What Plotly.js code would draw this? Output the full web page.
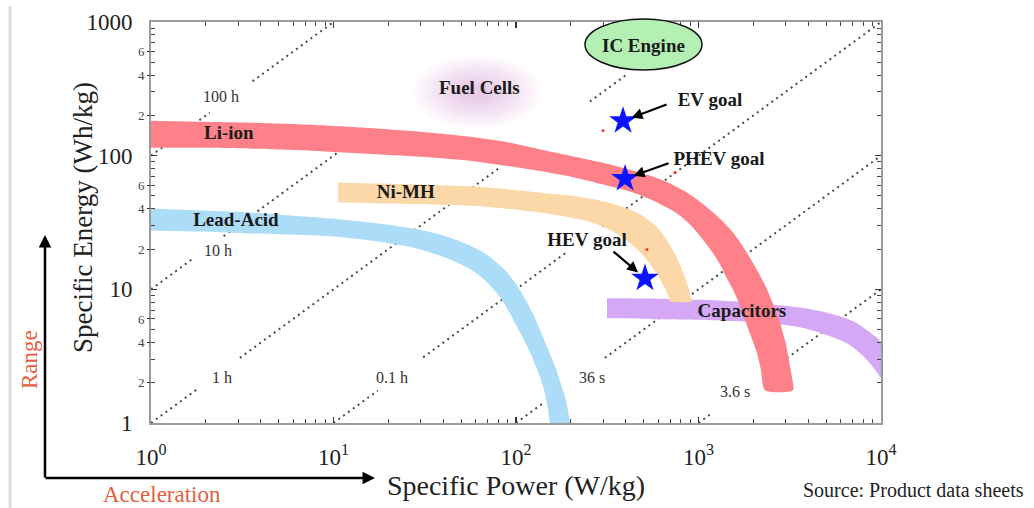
<!DOCTYPE html>
<html><head><meta charset="utf-8">
<script src="https://cdn.plot.ly/plotly-3.0.1.min.js"></script>
<style>html,body{margin:0;padding:0;background:#fff;}#chart{width:1034px;height:508px;}</style>
</head><body><div id="chart"></div>
<script>
// ---------- data ----------
// Technology bands: outer edge and inner edge (Specific Power W/kg, Specific Energy Wh/kg)
const liionOuterP = [1, 1.856, 3.714, 7.433, 14.88, 29.79, 55.97, 87.0, 130.4, 197.7, 299.7, 421.3, 563.2, 698.2, 865, 1019, 1186, 1362, 1545, 1710, 1867, 2040, 2200, 2373, 2528, 2658, 2797, 2904, 3017, 3093, 3172, 3253, 3294];
const liionOuterE = [182.4, 179.4, 176.3, 170.3, 161.8, 151.1, 138.7, 127.2, 112.8, 100, 88.7, 78.6, 69.7, 61.8, 52.9, 45.4, 38.2, 32.2, 26.6, 22.0, 18.2, 14.8, 12.3, 10.0, 8.13, 6.85, 5.67, 4.70, 3.89, 3.22, 2.66, 2.20, 1.76];
const liionInnerP = [1, 1.856, 3.714, 7.433, 14.88, 29.79, 55.97, 87.0, 130.4, 197.7, 299.7, 421.3, 563.2, 655.2, 762.5, 876, 994, 1099, 1201, 1312, 1415, 1526, 1667, 1798, 1940, 2092, 2200, 2314];
const liionInnerE = [114.7, 114.7, 112.8, 109, 103.5, 98.3, 91.8, 84.2, 77.3, 69.7, 60.8, 53.9, 46.2, 41.6, 36.9, 31.6, 26.2, 22.0, 18.6, 15.4, 12.5, 10.3, 7.86, 5.87, 4.46, 3.33, 2.49, 1.76];

const nimhOuterP = [10.59, 11.3, 17.98, 33.8, 59.6, 92.7, 135.4, 197.7, 271, 348.7, 421.3, 490.2, 556, 615.2, 672, 725, 782, 833, 876, 909.6, 921];
const nimhOuterE = [62.9, 62.85, 61.8, 60.3, 58.7, 55.8, 52.9, 50.3, 46.9, 43.1, 39.5, 35.7, 31.6, 27.6, 23.2, 19.5, 15.9, 12.9, 10.5, 8.71, 8.13];
const nimhInnerP = [10.59, 11.3, 17.98, 33.8, 59.6, 92.7, 135.4, 185.5, 238.8, 289, 340, 390.7, 443.2, 497, 549.3, 600, 647.1, 689.3, 698.2];
const nimhInnerE = [44.6, 44.55, 43.8, 43.1, 42.0, 39.9, 37.6, 35.1, 32.7, 30.0, 27.1, 24.0, 20.9, 17.9, 15.1, 12.7, 10.5, 8.71, 8.13];

const leadOuterP = [1, 1.856, 3.487, 5.776, 9.568, 15.85, 27.27, 38.33, 51.24, 63.49, 75.78, 89.28, 101.3, 113.4, 125.5, 137.1, 149.7, 163.6, 176.4, 187.9, 197.7, 202];
const leadOuterE = [40.2, 38.9, 37.6, 35.7, 33.9, 31.6, 28.5, 25.7, 22.4, 19.5, 16.5, 13.4, 10.7, 8.28, 6.29, 4.78, 3.57, 2.66, 1.95, 1.48, 1.0, 0.85];
const leadInnerP = [1, 1.856, 3.487, 5.776, 9.568, 15.85, 27.27, 36.91, 47.50, 57.42, 67.62, 78.69, 88.13, 97.5, 107.9, 119.3, 130.4, 140.6, 147.9, 153.6, 155.5];
const leadInnerE = [27.6, 27.1, 26.2, 25.7, 24.9, 23.2, 20.6, 18.2, 15.9, 13.9, 11.7, 9.34, 7.47, 5.77, 4.46, 3.39, 2.53, 1.89, 1.39, 1.0, 0.85];

const capOuterP = [315.3, 371.5, 615.2, 1201, 1915, 2797, 3833, 4934, 6192, 7387, 8382, 9271, 10000, 11200];
const capOuterE = [8.57, 8.57, 8.50, 8.28, 8.0, 7.6, 7.22, 6.74, 6.18, 5.58, 4.94, 4.46, 4.09, 3.63];
const capInnerP = [315.3, 371.5, 615.2, 1201, 1915, 2797, 3598, 4348, 5254, 6192, 7025, 7867, 8703, 9389, 10000, 10925];
const capInnerE = [6.08, 6.08, 5.97, 5.87, 5.72, 5.48, 5.20, 4.86, 4.46, 4.09, 3.69, 3.22, 2.80, 2.44, 2.17, 1.83];

const bandNames = ['Li-ion', 'Ni-MH', 'Lead-Acid', 'Capacitors'];
const bandLabelP = [2.67, 24.9, 2.92, 1730];
const bandLabelE = [143.5, 52, 32.2, 6.74];

// Goals
const goalNames = ['EV goal', 'PHEV goal', 'HEV goal'];
const goalP = [386, 396, 509];
const goalE = [182, 67.3, 12.1];
const goalLabelP = [1156, 1295, 245];
const goalLabelE = [257, 91.8, 22.8];
const goalArrowAx = [45, 45, -33];
const goalArrowAy = [-17, -16, -28];

// Small red points
const dotP = [300, 743, 522];
const dotE = [154, 74.7, 19.9];

// Other regions
const regionNames = ['Fuel Cells', 'IC Engine'];
const regionP = [62.7, 497];
const regionE = [322, 662];

// Constant discharge-time lines (visible segments)
const tlNames = ['100 h', '10 h', '1 h', '0.1 h', '36 s', '3.6 s'];
const tlP = [[1, 2.1, null, 3.6, 10], [1, 1.7, null, 2.5, 11], [1, 1.8, null, 3.07, 80, null, 254, 400],
             [10, 17.5, null, 31, 190, null, 296, 10000], [100, 143, null, 307, 10000], [1000, 1200, null, 2250, 10000]];
const tlE = [[100, 210, null, 360, 1000], [10, 17, null, 25, 110], [1, 1.8, null, 3.07, 80, null, 254, 400],
             [1, 1.75, null, 3.1, 19, null, 29.6, 1000], [1, 1.43, null, 3.07, 100], [1, 1.2, null, 2.25, 10]];
const tlLabelP = [2.42, 2.33, 2.45, 20.9, 261, 1585];
const tlLabelE = [271, 18.9, 2.13, 2.13, 2.13, 1.67];

// Ticks
const xTickVals = [1, 10, 100, 1000, 10000];
const xTickText = ['10<sup>0</sup>', '10<sup>1</sup>', '10<sup>2</sup>', '10<sup>3</sup>', '10<sup>4</sup>'];
const yTickVals = [1, 10, 100, 1000];
const yTickText = ['1', '10', '100', '1000'];
const yMinorLabelVals = [2, 4, 6, 20, 40, 60, 200, 400, 600];
const yMinorLabelText = ['2', '4', '6', '2', '4', '6', '2', '4', '6'];

// ---------- build ----------
const SERIF = 'Liberation Serif, Times New Roman, serif';
const PX = x => (x - 151) / 730;
const PY = y => (423 - y) / 401;

function band(oP, oE, iP, iE, color) {
  return {
    x: oP.concat(iP.slice().reverse()),
    y: oE.concat(iE.slice().reverse()),
    type: 'scatter', mode: 'lines', fill: 'toself', fillcolor: color,
    line: {width: 0, shape: 'spline', smoothing: 0.7, color: color},
    hoverinfo: 'skip', showlegend: false
  };
}

const minorVals = [];
[1, 10, 100, 1000].forEach(d => { for (let k = 2; k <= 9; k++) minorVals.push(k * d); });

const traces = [];
tlNames.forEach((n, i) => {
  traces.push({x: tlP[i], y: tlE[i], type: 'scatter', mode: 'lines', connectgaps: false,
    line: {color: '#4a4a4a', width: 2, dash: '2px,4px'}, hoverinfo: 'skip', showlegend: false});
});
traces.push(band(capOuterP, capOuterE, capInnerP, capInnerE, '#d5a8f6'));
traces.push(band(nimhOuterP, nimhOuterE, nimhInnerP, nimhInnerE, '#fcd8a8'));
traces.push(band(leadOuterP, leadOuterE, leadInnerP, leadInnerE, '#abdcf8'));
traces.push(band(liionOuterP, liionOuterE, liionInnerP, liionInnerE, '#fe8189'));

traces.push({x: tlLabelP, y: tlLabelE, text: tlNames, type: 'scatter', mode: 'text',
  textfont: {family: SERIF, size: 16, color: '#333'}, hoverinfo: 'skip', showlegend: false});
traces.push({x: bandLabelP, y: bandLabelE, text: bandNames.map(s => '<b>' + s + '</b>'), type: 'scatter', mode: 'text',
  textfont: {family: SERIF, size: 19, color: '#1a1a1a'}, hoverinfo: 'skip', showlegend: false});
traces.push({x: goalLabelP, y: goalLabelE, text: goalNames.map(s => '<b>' + s + '</b>'), type: 'scatter', mode: 'text',
  textfont: {family: SERIF, size: 19, color: '#1a1a1a'}, hoverinfo: 'skip', showlegend: false});
traces.push({x: goalP, y: goalE, type: 'scatter', mode: 'markers',
  marker: {symbol: 'star', size: 21, color: '#0a14ff', line: {width: 0}}, hoverinfo: 'skip', showlegend: false});
traces.push({x: dotP, y: dotE, yaxis: 'y2', type: 'scatter', mode: 'markers',
  marker: {size: 3, color: '#ff3030'}, hoverinfo: 'skip', showlegend: false});

// Fuel cell glow (soft radial fade)
const shapes = [];
for (let k = 0; k < 12; k++) {
  const s = 1 - k * 0.075;
  const cx = 477, cy = 92, rx = 64 * s, ry = 36 * s;
  shapes.push({type: 'circle', xref: 'paper', yref: 'paper', layer: 'below',
    x0: PX(cx - rx), x1: PX(cx + rx), y0: PY(cy + ry), y1: PY(cy - ry),
    fillcolor: 'rgba(210,150,205,0.045)', line: {width: 0}});
}
// IC engine ellipse
shapes.push({type: 'circle', xref: 'paper', yref: 'paper', layer: 'above',
  x0: PX(585), x1: PX(702), y0: PY(70), y1: PY(19),
  fillcolor: '#b4f0b4', line: {color: '#111', width: 1.5}});
// left border line of figure
shapes.push({type: 'line', xref: 'paper', yref: 'paper', x0: PX(10), x1: PX(10), y0: PY(6), y1: PY(508),
  line: {color: '#dcdcdc', width: 3}});

const annotations = [];
regionNames.forEach((n, i) => {
  annotations.push({x: Math.log10(regionP[i]), y: Math.log10(regionE[i]), xref: 'x', yref: 'y',
    xanchor: 'center', yanchor: 'middle',
    text: '<b>' + n + '</b>', showarrow: false, font: {family: SERIF, size: 19, color: '#1a1a1a'}});
});
goalNames.forEach((n, i) => {
  annotations.push({x: Math.log10(goalP[i]), y: Math.log10(goalE[i]), xref: 'x', yref: 'y',
    ax: goalArrowAx[i], ay: goalArrowAy[i], text: '', showarrow: true, arrowhead: 2, arrowsize: 1,
    arrowwidth: 2.2, arrowcolor: '#000', standoff: 9});
});
// Range / Acceleration arrows
annotations.push({x: PX(45), y: PY(235), xref: 'paper', yref: 'paper', ax: 0, ay: 244, text: '',
  showarrow: true, arrowhead: 2, arrowsize: 1, arrowwidth: 2.5, arrowcolor: '#000'});
annotations.push({x: PX(375), y: PY(478), xref: 'paper', yref: 'paper', ax: -331, ay: 0, text: '',
  showarrow: true, arrowhead: 2, arrowsize: 1, arrowwidth: 2.5, arrowcolor: '#000'});
annotations.push({x: PX(29), y: PY(360), xref: 'paper', yref: 'paper', xanchor: 'center', yanchor: 'middle',
  text: 'Range', textangle: -90, showarrow: false, font: {family: SERIF, size: 23, color: '#e2603f'}});
annotations.push({x: PX(162), y: PY(494), xref: 'paper', yref: 'paper', xanchor: 'center', yanchor: 'middle',
  text: 'Acceleration', showarrow: false, font: {family: SERIF, size: 23, color: '#e2603f'}});
annotations.push({x: PX(801), y: PY(490), xref: 'paper', yref: 'paper', xanchor: 'left', yanchor: 'middle',
  text: 'Source: Product data sheets', showarrow: false, font: {family: SERIF, size: 20, color: '#222'}});
// Y axis title (placed to match the reference)
annotations.push({x: PX(83), y: PY(218), xref: 'paper', yref: 'paper', xanchor: 'center', yanchor: 'middle',
  text: 'Specific Energy (Wh/kg)', textangle: -90, showarrow: false, font: {family: SERIF, size: 27, color: '#222'}});

const axisCommon = {
  type: 'log', showgrid: false, zeroline: false, showline: true, linecolor: '#9a9a9a', linewidth: 2,
  mirror: 'ticks', ticks: 'inside', ticklen: 6, tickwidth: 1.2, tickcolor: '#333', tickmode: 'array',
  minor: {tickmode: 'array', tickvals: minorVals, ticks: 'inside', ticklen: 4, tickwidth: 1, tickcolor: '#444', showgrid: false},
  fixedrange: true
};

const layout = {
  width: 1034, height: 508,
  margin: {l: 151, r: 153, t: 22, b: 85},
  paper_bgcolor: '#fff', plot_bgcolor: '#fff',
  showlegend: false,
  xaxis: Object.assign({}, axisCommon, {
    range: [0, 4], tickvals: xTickVals, ticktext: xTickText,
    tickfont: {family: SERIF, size: 23, color: '#222'}, ticklabelstandoff: 12,
    title: {text: 'Specific Power (W/kg)', font: {family: SERIF, size: 28, color: '#222'}, standoff: 0}
  }),
  yaxis: Object.assign({}, axisCommon, {
    range: [0, 3], tickvals: yTickVals, ticktext: yTickText,
    tickfont: {family: SERIF, size: 23, color: '#222'}, ticklabelstandoff: 12
  }),
  yaxis2: {type: 'log', range: [0, 3], overlaying: 'y', side: 'left', anchor: 'x',
    showgrid: false, zeroline: false, showline: false, tickmode: 'array',
    tickvals: yMinorLabelVals, ticktext: yMinorLabelText, ticks: 'outside', ticklen: 3, tickcolor: '#333',
    tickfont: {family: SERIF, size: 13, color: '#444'}, ticklabelstandoff: 0, fixedrange: true},
  shapes: shapes,
  annotations: annotations
};

Plotly.newPlot('chart', traces, layout, {staticPlot: true, displayModeBar: false});
</script></body></html>
